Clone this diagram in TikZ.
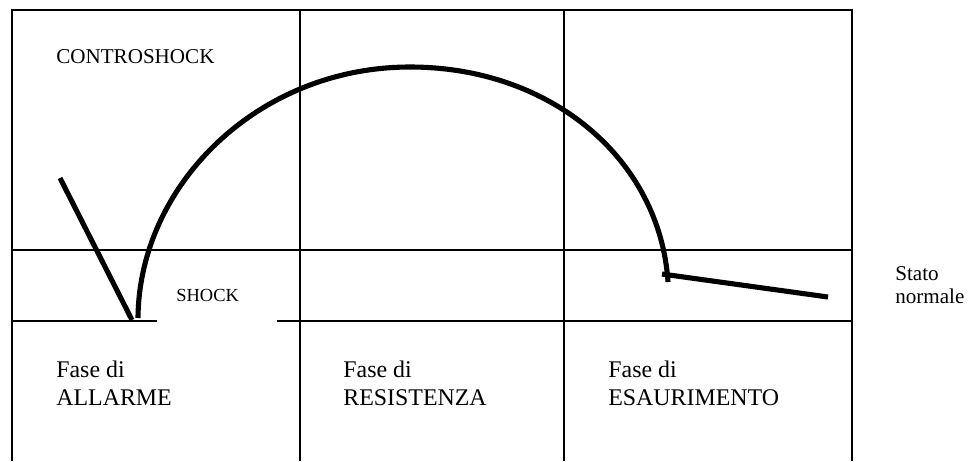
\documentclass[tikz,border=0pt]{standalone}
\usepackage{fontspec}
\setmainfont{Liberation Serif}
\begin{document}
\begin{tikzpicture}[x=0.02cm,y=-0.02cm,
  grid/.style={line width=0.75pt,black},
  heavy/.style={line width=2.9pt,black},
  lbl/.style={anchor=base west,inner sep=0pt,font=\fontsize{13.6pt}{16pt}\selectfont},
  small/.style={anchor=base west,inner sep=0pt,font=\fontsize{12pt}{14pt}\selectfont}]
\useasboundingbox (0,0) rectangle (970,461);
% grid
\draw[grid] (12,461) -- (12,10) -- (852,10) -- (852,461);
\draw[grid] (300,10) -- (300,461);
\draw[grid] (564,10) -- (564,461);
\draw[grid] (12,250) -- (852,250);
\draw[grid] (12,321) -- (852,321);
% white patch behind SHOCK
\fill[white] (157,276) rectangle (277,323);
% curves
\coordinate (vtop) at (60,178);
\coordinate (vbot) at (132,320);
\draw[heavy] (vtop) -- (vbot);
\coordinate (as) at (138,318);
\coordinate (atop) at (410,67);
\coordinate (ae) at (668,282);
\draw[heavy] (as) .. controls (139,185) and (258,67) .. (atop)
  .. controls (552,67) and (660,160) .. (ae);
\coordinate (ns) at (662,274);
\coordinate (ne) at (828,297);
\draw[heavy] (ns) -- (ne);
% texts
\node[small] (contro) at (56,63) {CONTROSHOCK};
\node[anchor=base west,inner sep=0pt,font=\fontsize{10.5pt}{12pt}\selectfont] (shock) at (176,301) {SHOCK};
\node[lbl] (f1a) at (56,377) {Fase di};
\node[lbl] (f1b) at (56,405) {ALLARME};
\node[lbl] (f2a) at (343,377) {Fase di};
\node[lbl] (f2b) at (343,405) {RESISTENZA};
\node[lbl] (f3a) at (608,377) {Fase di};
\node[lbl] (f3b) at (608,405) {ESAURIMENTO};
\node[small] (st1) at (895,280) {Stato};
\node[small] (st2) at (895,303) {normale};
\end{tikzpicture}
\end{document}
